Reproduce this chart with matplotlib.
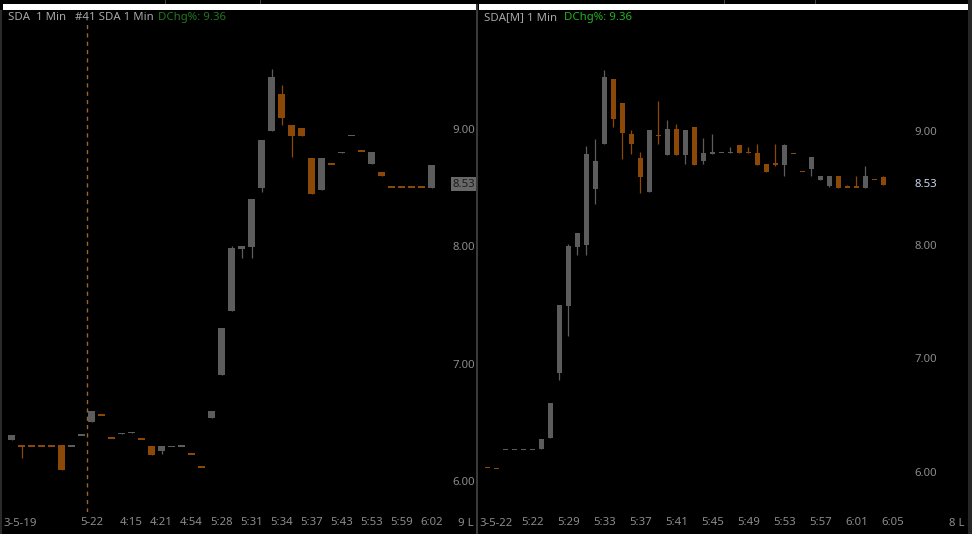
import matplotlib.pyplot as plt
from matplotlib.patches import Rectangle

plt.rcParams['font.family'] = ['Noto Sans', 'DejaVu Sans']

# ---- left chart: SDA 1 Min (43 bars) ----
left_open  = [6.35, 6.31, 6.296, 6.296, 6.296, 6.31, 6.299, 6.389, 6.50, 6.561,
              6.364, 6.404, 6.412, 6.356, 6.30, 6.255, 6.294, 6.299, 6.228, 6.117,
              6.54, 6.90, 7.45, 7.98, 7.99, 8.50, 8.98, 9.30, 9.03, 9.01,
              8.75, 8.48, 8.701, 8.799, 8.945, 8.811, 8.70, 8.634, 8.504, 8.504,
              8.504, 8.504, 8.50]
left_high  = [6.39, 6.31, 6.296, 6.296, 6.296, 6.31, 6.30, 6.39, 6.60, 6.561,
              6.364, 6.405, 6.413, 6.356, 6.30, 6.30, 6.295, 6.30, 6.228, 6.117,
              6.60, 7.30, 8.00, 8.00, 8.40, 8.906, 9.51, 9.375, 9.03, 9.01,
              8.75, 8.75, 8.701, 8.80, 8.946, 8.811, 8.805, 8.634, 8.504, 8.504,
              8.504, 8.504, 8.69]
left_low   = [6.35, 6.195, 6.295, 6.295, 6.295, 6.09, 6.299, 6.389, 6.50, 6.56,
              6.363, 6.404, 6.412, 6.355, 6.22, 6.23, 6.294, 6.299, 6.227, 6.116,
              6.54, 6.90, 7.45, 7.90, 7.90, 8.46, 8.98, 9.035, 8.76, 8.94,
              8.45, 8.48, 8.70, 8.799, 8.945, 8.81, 8.70, 8.60, 8.503, 8.503,
              8.503, 8.503, 8.50]
left_close = [6.39, 6.29, 6.295, 6.295, 6.295, 6.09, 6.30, 6.39, 6.60, 6.56,
              6.363, 6.405, 6.413, 6.355, 6.22, 6.30, 6.295, 6.30, 6.227, 6.116,
              6.60, 7.30, 7.985, 8.00, 8.40, 8.906, 9.44, 9.09, 8.94, 8.94,
              8.45, 8.75, 8.70, 8.80, 8.946, 8.81, 8.805, 8.60, 8.503, 8.503,
              8.503, 8.503, 8.69]
left_tick_pos = [8, 12, 15, 18, 21, 24, 27, 30, 33, 36, 39, 42]
left_tick_lab = ['5-22', '4:15', '4:21', '4:54', '5:28', '5:31', '5:34',
                 '5:37', '5:43', '5:53', '5:59', '6:02']
left_marker = 7.58   # dashed vertical cursor
left_last = 8.53

# ---- right chart: SDA[M] 1 Min (45 bars) ----
right_open  = [6.043, 6.034, 6.199, 6.199, 6.199, 6.199, 6.20, 6.30, 6.87, 7.46,
               7.98, 8.00, 8.49, 8.89, 9.457, 9.246, 8.974, 8.763, 8.463, 8.965,
               8.789, 9.018, 8.789, 9.035, 8.736, 8.798, 8.809, 8.809, 8.877, 8.812,
               8.806, 8.71, 8.72, 8.70, 8.801, 8.646, 8.666, 8.569, 8.516, 8.604,
               8.506, 8.506, 8.499, 8.576, 8.595]
right_high  = [6.043, 6.034, 6.20, 6.20, 6.20, 6.20, 6.29, 6.61, 7.47, 8.006,
               8.10, 8.87, 8.93, 9.536, 9.457, 9.246, 9.01, 8.815, 9.009, 9.264,
               9.097, 9.062, 9.009, 9.035, 8.938, 8.974, 8.81, 8.86, 8.877, 8.86,
               8.886, 8.71, 8.886, 8.886, 8.801, 8.646, 8.771, 8.604, 8.604, 8.604,
               8.525, 8.604, 8.69, 8.576, 8.604]
right_low   = [6.042, 6.033, 6.199, 6.199, 6.199, 6.199, 6.20, 6.30, 6.81, 7.20,
               7.91, 7.91, 8.36, 8.89, 9.035, 8.754, 8.80, 8.455, 8.463, 8.888,
               8.789, 8.789, 8.71, 8.70, 8.71, 8.798, 8.809, 8.809, 8.806, 8.808,
               8.70, 8.64, 8.69, 8.604, 8.80, 8.645, 8.604, 8.569, 8.507, 8.499,
               8.505, 8.505, 8.499, 8.575, 8.525]
right_close = [6.042, 6.033, 6.20, 6.20, 6.20, 6.20, 6.29, 6.61, 7.47, 7.99,
               8.10, 8.80, 8.74, 9.475, 9.106, 8.982, 8.886, 8.595, 9.009, 8.96,
               9.018, 8.789, 9.009, 8.70, 8.806, 8.815, 8.81, 8.81, 8.806, 8.808,
               8.70, 8.64, 8.70, 8.877, 8.80, 8.645, 8.771, 8.604, 8.604, 8.499,
               8.505, 8.505, 8.604, 8.575, 8.525]
right_tick_pos = [5, 9, 13, 17, 21, 25, 29, 33, 37, 41, 45]
right_tick_lab = ['5:22', '5:29', '5:33', '5:37', '5:41', '5:45', '5:49',
                  '5:53', '5:57', '6:01', '6:05']
right_last = 8.53

price_ticks = [6, 7, 8, 9]
price_labels = ['6.00', '7.00', '8.00', '9.00']

UP = '#5c5c5c'
DOWN = '#8c4806'
AXIS_TXT = '#8c8c8c'
W, H = 972, 534

fig = plt.figure(figsize=(9.72, 5.34), dpi=100, facecolor='black')


def box(x, y, w, h):
    # pixel box (top-left origin) -> figure fractions
    return [x / W, 1 - (y + h) / H, w / W, h / H]


def rect(x, y, w, h, color):
    fig.patches.append(Rectangle((x / W, 1 - (y + h) / H), w / W, h / H,
                                 transform=fig.transFigure, color=color, lw=0))


def draw_candles(ax, o, hi, lo, c, width, min_body):
    for i in range(len(o)):
        col = UP if c[i] >= o[i] else DOWN
        ax.vlines(i, lo[i], hi[i], color=col, lw=0.9)
        bottom = min(o[i], c[i])
        height = abs(c[i] - o[i])
        if height < min_body:
            bottom = (o[i] + c[i]) / 2 - min_body / 2
            height = min_body
        ax.bar(i, height, width, bottom=bottom, color=col, lw=0)


def style(ax, ypad):
    ax.set_facecolor('black')
    for s in ax.spines.values():
        s.set_visible(False)
    ax.yaxis.tick_right()
    ax.set_yticks(price_ticks, price_labels)
    ax.tick_params(axis='both', length=0, labelsize=8.2, labelcolor=AXIS_TXT)
    ax.tick_params(axis='y', pad=ypad)
    ax.tick_params(axis='x', pad=3.5)


# left panel
axl = fig.add_axes(box(3, 10, 444, 502))
draw_candles(axl, left_open, left_high, left_low, left_close, 0.7, 0.013)
axl.set_xlim(-0.85, 43.55)
axl.set_ylim(9 - (512 - 129) / 117.3, 9 + (129 - 10) / 117.3)
style(axl, 3.6)
axl.set_xticks(left_tick_pos, left_tick_lab)
axl.axvline(left_marker, ymin=0.0, ymax=0.98, color='#9a6630', lw=1.0,
            ls=(0, (3, 3)))
axl.annotate(f'{left_last:.2f}', xy=(1, left_last), xycoords=('axes fraction', 'data'),
             xytext=(3.6, 0), textcoords='offset points', ha='left', va='center',
             fontsize=8.2, color='#1c1c1c',
             bbox=dict(boxstyle='square,pad=0.12', fc='#686868', ec='none'))

# right panel
axr = fig.add_axes(box(480, 10, 426, 502))
draw_candles(axr, right_open, right_high, right_low, right_close, 0.56, 0.013)
axr.set_xlim(-0.833, 46.5)
axr.set_ylim(9 - (512 - 131) / 113.7, 9 + (131 - 10) / 113.7)
style(axr, 5.8)
axr.set_xticks(right_tick_pos, right_tick_lab)
axr.annotate(f'{right_last:.2f}', xy=(1, right_last), xycoords=('axes fraction', 'data'),
             xytext=(5.8, 0), textcoords='offset points', ha='left', va='center',
             fontsize=8.2, color='#c8d8f0')

# window chrome
rect(3, 4, 473, 6, 'white')
rect(479, 4, 489, 6, 'white')
rect(476, 4, 2, 530, '#3a3a3a')
rect(0, 10, 2, 524, '#2a2a2a')
rect(968, 0, 4, 534, '#262626')
for xl in [165, 260, 724, 815]:
    rect(xl, 0, 1, 4, '#444444')

# header texts
hy = 1 - 17.5 / H
fig.text(8 / W, hy, 'SDA  1 Min', color='#a8a8a8', fontsize=8.2, va='center')
fig.text(75 / W, hy, '#41 SDA 1 Min', color='#a8a8a8', fontsize=8.2, va='center')
fig.text(158 / W, hy, 'DChg%: 9.36', color='#1f7a1f', fontsize=8.2, va='center')
fig.text(484 / W, hy, 'SDA[M] 1 Min', color='#a8a8a8', fontsize=8.2, va='center')
fig.text(564 / W, hy, 'DChg%: 9.36', color='#22b322', fontsize=8.2, va='center')

# bottom corner texts
by = 1 - 524 / H
fig.text(3 / W, by, '3-5-19', color=AXIS_TXT, fontsize=8.2, va='center')
fig.text(458 / W, by, '9 L', color=AXIS_TXT, fontsize=8.2, va='center')
fig.text(479 / W, by, '3-5-22', color=AXIS_TXT, fontsize=8.2, va='center')
fig.text(949 / W, by, '8 L', color=AXIS_TXT, fontsize=8.2, va='center')

plt.savefig('out.png', dpi=100, facecolor='black')
